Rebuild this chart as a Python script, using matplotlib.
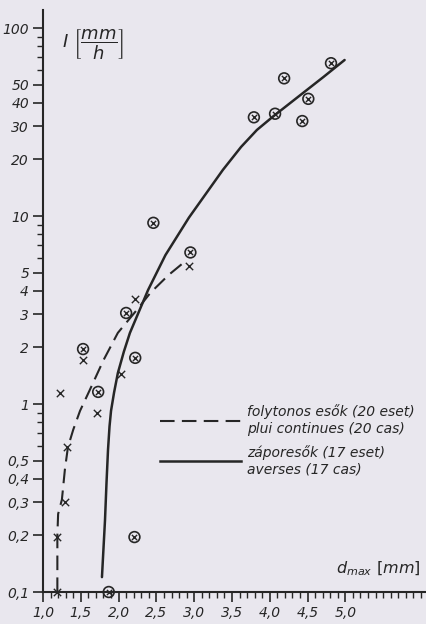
import matplotlib
matplotlib.use("Agg")
import matplotlib.pyplot as plt
from matplotlib.ticker import FixedLocator, FixedFormatter, NullFormatter

# ---- data ----
# záporesők (showers), circled-x markers
shower_d = [3.79, 4.07, 4.19, 4.43, 4.51, 4.81, 2.46, 2.95, 2.10, 1.53, 2.22, 1.73, 2.21, 1.87]
shower_i = [33.5, 35.0, 54.0, 32.0, 42.0, 65.0, 9.2, 6.4, 3.05, 1.96, 1.76, 1.16, 0.196, 0.10]

# folytonos esők (continuous rain), x markers
cont_d = [2.93, 2.22, 1.53, 1.23, 2.03, 1.71, 1.32, 1.29, 1.19, 1.19]
cont_i = [5.42, 3.62, 1.71, 1.14, 1.44, 0.895, 0.59, 0.30, 0.196, 0.10]

# fitted curves as drawn
solid_d = [1.78, 1.80, 1.82, 1.84, 1.86, 1.88, 1.90, 1.94, 1.99, 2.07, 2.15, 2.39, 2.62, 2.93,
           3.38, 3.62, 3.83, 4.05, 4.27, 4.71, 4.99]
solid_i = [0.12, 0.17, 0.24, 0.38, 0.57, 0.76, 0.92, 1.15, 1.46, 1.9, 2.39, 4.04, 6.2, 9.8,
           17.6, 23.3, 28.7, 34.0, 39.9, 54.9, 67.6]

dash_d = [1.19, 1.19, 1.20, 1.25, 1.29, 1.33, 1.40, 1.49, 1.62, 1.80, 1.99, 2.24, 2.42, 2.66, 2.86]
dash_i = [0.10, 0.20, 0.26, 0.31, 0.45, 0.59, 0.73, 0.92, 1.19, 1.71, 2.39, 3.16, 3.9, 4.85, 5.65]

y_major = [0.1, 0.2, 0.3, 0.4, 0.5, 1, 2, 3, 4, 5, 10, 20, 30, 40, 50, 100]
y_labels = ["0,1", "0,2", "0,3", "0,4", "0,5", "1", "2", "3", "4", "5",
            "10", "20", "30", "40", "50", "100"]
y_minor = [0.6, 0.7, 0.8, 0.9, 6, 7, 8, 9, 60, 70, 80, 90]
x_major = [1.0, 1.5, 2.0, 2.5, 3.0, 3.5, 4.0, 4.5, 5.0]
x_labels = ["1,0", "1,5", "2,0", "2,5", "3,0", "3,5", "4,0", "4,5", "5,0"]

paper = "#e9e7ee"
ink = "#262626"

plt.rcParams["font.family"] = ["DejaVu Sans"]
plt.rcParams["mathtext.fontset"] = "dejavusans"

W, H = 427, 624
fig = plt.figure(figsize=(W / 100, H / 100), dpi=100, facecolor=paper)
ax = fig.add_axes([43 / W, 32 / H, 1 - 43 / W, (592 - 10) / H])
ax.set_facecolor(paper)

ax.set_yscale("log")
ax.set_ylim(0.1, 124.7)
ax.set_xlim(1.0, 6.08)

for s in ["top", "right"]:
    ax.spines[s].set_visible(False)
for s in ["left", "bottom"]:
    ax.spines[s].set_linewidth(1.5)
    ax.spines[s].set_color(ink)

ax.yaxis.set_major_locator(FixedLocator(y_major))
ax.yaxis.set_major_formatter(FixedFormatter(y_labels))
ax.yaxis.set_minor_locator(FixedLocator(y_minor))
ax.yaxis.set_minor_formatter(NullFormatter())
ax.xaxis.set_major_locator(FixedLocator(x_major))
ax.xaxis.set_major_formatter(FixedFormatter(x_labels))
ax.xaxis.set_minor_locator(FixedLocator([1.0 + 0.1 * k for k in range(51)]))

ax.tick_params(which="major", direction="out", length=7, width=1.2, color=ink,
               labelsize=10, labelcolor=ink, pad=3)
ax.tick_params(which="minor", direction="out", length=4, width=1.0, color=ink)
for lab in ax.get_xticklabels() + ax.get_yticklabels():
    lab.set_fontstyle("italic")

# curves
ax.plot(solid_d, solid_i, color=ink, lw=1.8, solid_capstyle="round",
        solid_joinstyle="round")
ax.plot(dash_d, dash_i, color=ink, lw=1.5, dashes=(7, 3.5))

# markers
ax.scatter(shower_d, shower_i, s=60, facecolors="none", edgecolors=ink,
           linewidths=1.2, zorder=3, clip_on=False)
ax.scatter(shower_d, shower_i, s=14, marker="x", color=ink, linewidths=1.0,
           zorder=3, clip_on=False)
ax.scatter(cont_d, cont_i, s=28, marker="x", color=ink, linewidths=1.0,
           zorder=3, clip_on=False)

# axis titles
fig.text(62 / W, 1 - 44 / H, r"$I\ \left[\dfrac{mm}{h}\right]$", fontsize=13,
         color=ink, va="center", ha="left")
fig.text(336 / W, 1 - 578 / H, r"$d_{max}\ [mm]$", fontsize=11.5,
         color=ink, va="bottom", ha="left")

# legend
h1, = ax.plot([], [], color=ink, lw=1.5, dashes=(7, 3.5))
h2, = ax.plot([], [], color=ink, lw=1.8)
leg = ax.legend([h1, h2],
                ["folytonos esők (20 eset)\nplui continues (20 cas)",
                 "záporesők (17 eset)\naverses (17 cas)"],
                loc="upper left", bbox_to_anchor=(148 / W, 1 - 392 / H),
                bbox_transform=fig.transFigure, frameon=False,
                handlelength=5.8, handletextpad=0.4, labelspacing=0.7,
                prop={"size": 10, "style": "italic"})
for t in leg.get_texts():
    t.set_color(ink)

fig.savefig("out.png", dpi=100, facecolor=paper)
